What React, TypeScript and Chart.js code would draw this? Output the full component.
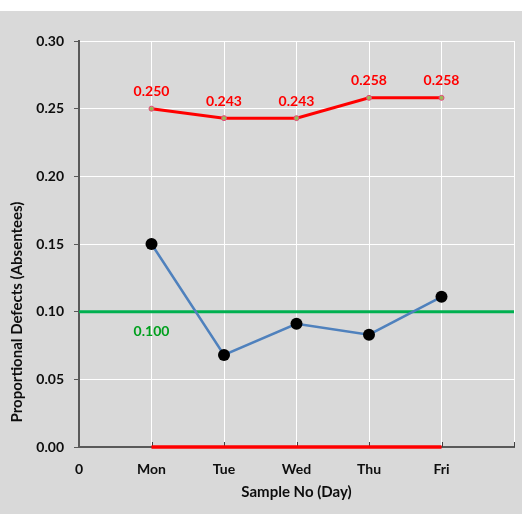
import React, { useEffect, useRef } from "react";
import { Chart, registerables } from "chart.js";

Chart.register(...registerables);

const days = ["Mon", "Tue", "Wed", "Thu", "Fri"];
const dayPositions = [1, 2, 3, 4, 5];
const proportions = [0.15, 0.068, 0.091, 0.083, 0.111];
const uclValues = [0.25, 0.243, 0.243, 0.258, 0.258];
const lclValues = [0, 0, 0, 0, 0];
const centerLine = 0.1;
const centerLineSpan = [0, 6];
const xTickLabels = ["0", ...days, ""];
const yMax = 0.3;
const yStep = 0.05;

const FONT = "Lato, 'Open Sans', sans-serif";

export default function App() {
  const ref = useRef<HTMLCanvasElement | null>(null);

  useEffect(() => {
    if (!ref.current) return;

    const bgPlugin = {
      id: "bg",
      beforeDraw(chart: any) {
        const { ctx } = chart;
        ctx.save();
        ctx.fillStyle = "#d9d9d9";
        ctx.fillRect(0, 11, 522, 503);
        ctx.restore();
      },
    };

    const extrasPlugin = {
      id: "extras",
      beforeDatasetsDraw(chart: any) {
        const { ctx } = chart;
        const xs = chart.scales.x;
        const ys = chart.scales.y;
        const y0 = ys.getPixelForValue(0);
        ctx.save();
        ctx.strokeStyle = "#404040";
        ctx.lineWidth = 1;
        for (let v = 1; v <= 6; v++) {
          const px = Math.round(xs.getPixelForValue(v)) + 0.5;
          ctx.beginPath();
          ctx.moveTo(px, y0);
          ctx.lineTo(px, y0 - 5);
          ctx.stroke();
        }
        ctx.restore();
      },
      afterDatasetsDraw(chart: any) {
        const { ctx } = chart;
        ctx.save();
        ctx.font = `bold 14px ${FONT}`;
        ctx.textAlign = "center";
        ctx.textBaseline = "middle";
        // UCL labels
        const uclMeta = chart.getDatasetMeta(1);
        ctx.fillStyle = "#ff0000";
        uclMeta.data.forEach((pt: any, i: number) => {
          ctx.fillText(uclValues[i].toFixed(3), pt.x, pt.y - 17);
        });
        // Center line label
        const xs = chart.scales.x;
        const ys = chart.scales.y;
        ctx.fillStyle = "#00a01e";
        ctx.fillText(
          centerLine.toFixed(3),
          xs.getPixelForValue(dayPositions[0]),
          ys.getPixelForValue(centerLine) + 20
        );
        // Y-axis title
        ctx.fillStyle = "#0d0d0d";
        ctx.font = `bold 15px ${FONT}`;
        ctx.translate(17, 312);
        ctx.rotate(-Math.PI / 2);
        ctx.fillText("Proportional Defects (Absentees)", 0, 0);
        ctx.restore();
      },
    };

    const chart = new Chart(ref.current, {
      type: "line",
      data: {
        datasets: [
          {
            label: "p",
            data: dayPositions.map((x, i) => ({ x, y: proportions[i] })),
            borderColor: "#4f81bd",
            borderWidth: 2.5,
            pointRadius: 6,
            pointBackgroundColor: "#000000",
            pointBorderColor: "#000000",
            pointBorderWidth: 0,
            tension: 0,
          },
          {
            label: "UCL",
            data: dayPositions.map((x, i) => ({ x, y: uclValues[i] })),
            borderColor: "#ff0000",
            borderWidth: 3,
            pointRadius: 2.5,
            pointBackgroundColor: "#9bbb59",
            pointBorderColor: "#e8457a",
            pointBorderWidth: 1,
            tension: 0,
          },
          {
            label: "CL",
            data: centerLineSpan.map((x) => ({ x, y: centerLine })),
            borderColor: "#00b050",
            borderWidth: 3,
            pointRadius: 0,
            tension: 0,
          },
          {
            label: "LCL",
            data: dayPositions.map((x, i) => ({ x, y: lclValues[i] })),
            borderColor: "#ff0000",
            borderWidth: 3.5,
            pointRadius: 0,
            tension: 0,
          },
        ],
      },
      options: {
        responsive: false,
        animation: false,
        clip: false as any,
        layout: { padding: { top: 41, right: 8, left: 0, bottom: 0 } },
        plugins: {
          legend: { display: false },
          tooltip: { enabled: false },
        },
        scales: {
          x: {
            type: "linear",
            min: 0,
            max: 6,
            afterFit(scale: any) {
              scale.height = 67;
              scale.paddingLeft = 0;
              scale.paddingRight = 0;
            },
            ticks: {
              stepSize: 1,
              autoSkip: false,
              maxRotation: 0,
              padding: 14,
              color: "#0d0d0d",
              font: { family: FONT, size: 14, weight: "bold" },
              callback: (v: any) => xTickLabels[Number(v)] ?? "",
            },
            grid: {
              drawTicks: false,
              color: (c: any) => (c.tick && c.tick.value === 0 ? "rgba(0,0,0,0)" : "#ffffff"),
              lineWidth: 1,
            },
            border: { color: "#595959", width: 2 },
            title: {
              display: true,
              text: "Sample No (Day)",
              color: "#0d0d0d",
              font: { family: FONT, size: 15, weight: "bold" },
              padding: { top: 0, bottom: 13 },
            },
          },
          y: {
            min: 0,
            max: yMax,
            afterFit(scale: any) {
              scale.width = 79;
              scale.paddingTop = 0;
              scale.paddingBottom = 0;
            },
            ticks: {
              stepSize: yStep,
              padding: 10,
              color: "#0d0d0d",
              font: { family: FONT, size: 14, weight: "bold" },
              callback: (v: any) => Number(v).toFixed(2),
            },
            grid: {
              drawTicks: true,
              tickLength: 5,
              tickColor: "#595959",
              color: (c: any) => (c.tick && c.tick.value === 0 ? "rgba(0,0,0,0)" : "#ffffff"),
              lineWidth: 1,
            },
            border: { color: "#595959", width: 2 },
          },
        },
      },
      plugins: [bgPlugin, extrasPlugin],
    });

    return () => chart.destroy();
  }, []);

  return (
    <canvas
      ref={ref}
      width={522}
      height={514}
      style={{ position: "absolute", left: 0, top: 0, width: 522, height: 514 }}
    />
  );
}
